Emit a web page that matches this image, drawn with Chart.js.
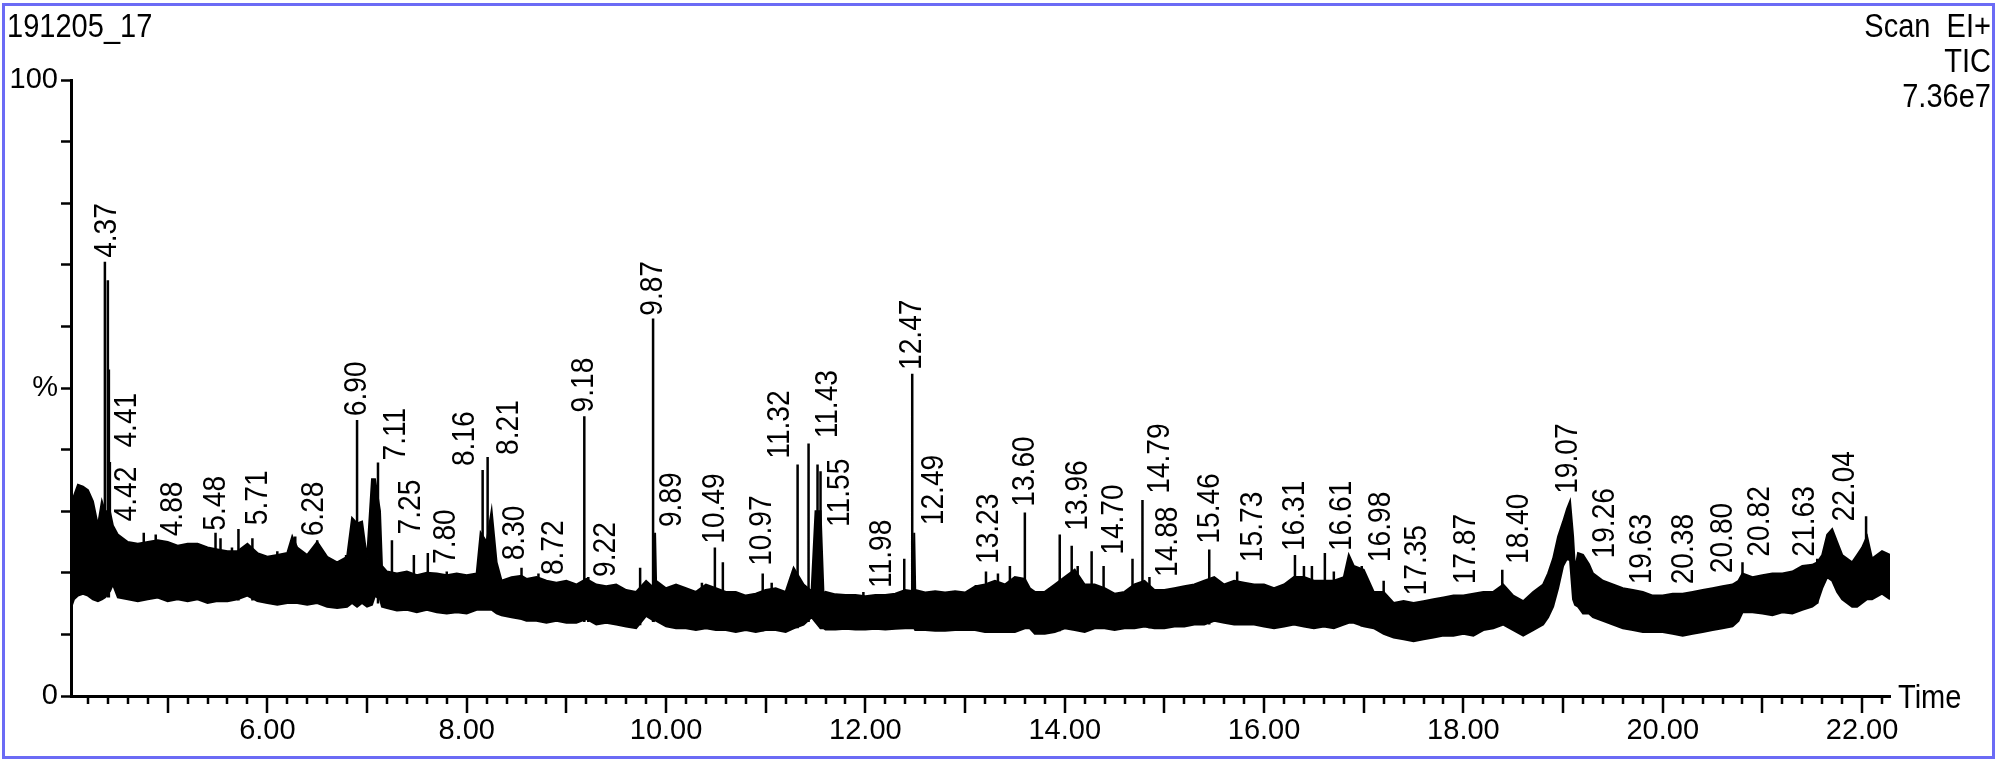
<!DOCTYPE html>
<html><head><meta charset="utf-8">
<style>html,body{margin:0;padding:0;background:#fff;overflow:hidden}canvas{display:block}</style>
<script src="https://cdn.jsdelivr.net/npm/chart.js@4.4.1/dist/chart.umd.min.js"></script>
</head><body>
<canvas id="c" width="2000" height="767"></canvas>
<script>
// ---------- texts ----------
const sampleName = '191205_17';
const headerRight = ['Scan  EI+', 'TIC', '7.36e7'];
const xAxisTitle = 'Time';

// ---------- axis ticks ----------
const xMin = 4.03, xMax = 22.28;
const xLabelValues = [6, 8, 10, 12, 14, 16, 18, 20, 22];
const xMajorTicks = [5, 6, 7, 8, 9, 10, 11, 12, 13, 14, 15, 16, 17, 18, 19, 20, 21, 22];
const yTickValues = [0, 10, 20, 30, 40, 50, 60, 70, 80, 90, 100];
const yTickText = {0: '0', 50: '%', 100: '100'};

// ---------- noise band of the TIC trace (time in min, % of 7.36e7) ----------
const bandTime = [
 4.03,4.06,4.10,4.15,4.20,4.25,4.30,4.34,4.37,4.42,
 4.45,4.50,4.60,4.70,4.80,4.90,5.00,5.10,5.20,5.30,
 5.40,5.50,5.60,5.70,5.80,5.90,6.00,6.10,6.20,6.25,
 6.30,6.40,6.50,6.60,6.70,6.80,6.85,6.90,6.95,7.00,
 7.05,7.08,7.13,7.15,7.20,7.30,7.40,7.50,7.60,7.70,
 7.80,7.90,8.00,8.10,8.14,8.20,8.25,8.30,8.35,8.45,
 8.55,8.60,8.70,8.80,8.90,9.00,9.10,9.20,9.30,9.40,
 9.50,9.60,9.70,9.80,9.88,9.89,9.90,10.00,10.10,10.20,10.30,
 10.40,10.50,10.60,10.70,10.80,10.90,11.00,11.10,11.20,11.28,
 11.38,11.46,11.50,11.55,11.58,11.60,11.70,11.80,11.90,12.00,
 12.10,12.20,12.30,12.40,12.48,12.49,12.50,12.60,12.70,12.80,12.90,
 13.00,13.10,13.20,13.30,13.40,13.50,13.60,13.65,13.70,13.80,
 13.90,14.00,14.10,14.20,14.30,14.40,14.50,14.60,14.70,14.80,
 14.90,15.00,15.10,15.20,15.30,15.40,15.50,15.60,15.70,15.80,
 15.90,16.00,16.10,16.20,16.30,16.40,16.50,16.60,16.70,16.80,
 16.85,16.90,17.00,17.10,17.20,17.30,17.40,17.50,17.60,17.70,
 17.80,17.90,18.00,18.10,18.20,18.30,18.40,18.50,18.60,18.70,
 18.80,18.85,18.90,18.95,19.00,19.04,19.07,19.10,19.12,19.15,
 19.20,19.26,19.30,19.40,19.50,19.60,19.70,19.80,19.90,20.00,
 20.10,20.20,20.30,20.40,20.50,20.60,20.70,20.76,20.80,20.90,
 21.00,21.10,21.20,21.30,21.40,21.50,21.55,21.60,21.65,21.70,
 21.75,21.80,21.90,21.95,22.00,22.05,22.10,22.20,22.28];
const bandTop = [
 29.5,32.5,34.3,34.0,33.4,31.6,27.7,31.6,30.0,30.0,
 27.7,26.2,25.0,24.7,25.0,25.3,25.0,24.4,24.7,24.7,
 24.1,23.8,23.5,23.5,24.7,23.2,22.6,22.9,23.2,25.9,
 24.1,22.9,25.0,22.6,21.7,22.6,28.9,28.0,28.3,22.3,
 35.2,35.2,30.0,21.1,20.2,19.9,20.2,19.6,20.0,19.9,
 19.6,19.9,19.6,19.9,26.5,25.0,30.1,21.7,18.7,19.3,
 19.5,19.0,19.3,18.7,18.4,18.7,18.1,19.0,18.1,17.8,
 18.1,17.2,16.9,18.7,17.5,26.5,18.7,17.5,18.1,17.5,16.9,
 18.1,17.5,16.9,16.9,16.3,16.6,17.2,17.5,16.9,20.8,
 18.1,17.0,30.0,30.0,16.5,16.9,16.5,16.4,16.4,16.2,
 16.4,16.4,16.6,17.2,17.0,26.5,17.2,16.8,17.0,16.8,17.0,
 16.8,17.8,18.1,18.7,18.1,19.3,19.0,17.5,16.9,16.9,
 18.1,19.3,20.5,18.1,18.1,17.5,16.6,16.9,18.1,18.7,
 17.2,17.2,17.5,17.8,18.1,18.7,19.3,18.1,18.7,18.4,
 18.1,18.1,17.5,18.1,19.3,19.3,18.7,18.7,18.7,19.3,
 22.9,21.1,20.5,16.9,16.9,15.1,15.4,15.1,15.4,15.7,
 16.0,16.3,16.3,16.6,16.9,16.9,18.1,16.3,15.4,16.9,
 18.1,19.9,22.3,25.9,28.3,30.4,31.6,26.0,20.5,23.2,
 22.9,21.4,19.9,18.7,18.1,17.5,17.2,16.9,16.3,16.3,
 16.6,16.6,16.9,17.2,17.5,17.8,18.1,18.7,19.9,19.3,
 19.6,19.9,19.9,20.2,21.1,21.3,21.7,22.9,26.2,27.1,
 25.0,22.9,21.7,22.9,24.1,25.9,22.3,23.5,22.9];
const bandBottom = [
 14.3,15.7,16.3,16.6,16.3,15.7,15.4,15.7,16.0,17.0,
 18.1,16.0,15.7,15.4,15.7,16.0,15.4,15.7,15.4,15.7,
 15.1,15.4,15.4,15.7,16.3,15.4,15.1,14.8,15.1,15.1,
 15.1,14.8,15.1,14.5,14.3,14.5,15.1,14.5,15.1,14.5,
 14.8,16.3,15.7,14.5,14.3,13.9,14.0,13.6,14.0,13.6,
 13.4,13.6,13.4,14.0,14.0,14.0,14.0,13.4,13.1,12.8,
 12.5,12.2,12.2,11.9,12.2,11.9,11.9,12.5,11.6,11.9,
 11.6,11.3,11.0,13.0,12.2,12.5,12.2,11.3,11.0,11.0,10.7,
 11.0,10.7,10.7,10.4,10.7,10.4,10.7,10.7,10.4,11.0,
 11.6,12.8,12.0,11.0,11.0,10.8,10.8,10.9,10.8,10.8,
 10.9,10.8,10.9,11.0,11.0,11.0,10.7,10.7,10.6,10.6,10.7,
 10.7,10.7,10.4,10.4,10.4,10.4,11.0,11.0,10.1,10.1,
 10.4,11.0,10.7,10.4,11.0,11.0,10.7,11.0,11.0,11.3,
 11.0,11.0,11.3,11.3,11.6,11.6,12.2,11.9,11.6,11.6,
 11.6,11.3,11.0,11.3,11.6,11.3,11.0,11.3,11.0,11.6,
 11.9,11.9,11.3,11.0,10.1,9.5,9.2,8.9,9.2,9.5,
 9.8,9.8,10.1,9.8,10.7,11.0,11.6,10.7,9.8,10.7,
 11.6,12.8,14.5,17.5,21.1,22.3,22.0,15.7,14.8,14.5,
 13.4,13.4,12.8,12.2,11.6,11.0,10.7,10.4,10.4,10.4,
 10.1,9.8,10.1,10.4,10.7,11.0,11.3,12.2,13.6,13.6,
 13.4,13.1,13.6,13.4,14.0,14.5,15.1,17.5,19.3,18.7,
 16.9,15.7,14.5,14.5,15.1,15.7,15.7,16.6,15.7];

// ---------- narrow peaks (apex and foot level, %) ----------
const spikeTime = [
 4.37,4.40,4.41,4.42,4.76,4.88,5.48,5.53,5.645,5.71,
 5.85,6.10,6.28,6.50,6.79,6.90,7.11,7.25,7.47,7.61,
 7.80,8.16,8.21,8.55,8.72,9.18,9.22,9.74,9.87,10.36,
 10.49,10.57,10.97,11.06,11.32,11.43,11.52,11.55,11.98,12.39,
 12.47,13.11,13.21,13.33,13.45,13.60,13.95,14.07,14.13,14.27,
 14.39,14.68,14.78,14.85,15.45,15.73,16.31,16.40,16.48,16.61,
 16.70,16.98,17.20,18.39,20.80,21.55,22.04];
const spikeApex = [
 70.5,67.5,53.0,38.0,26.5,26.2,26.5,25.6,24.1,27.1,
 25.6,23.5,25.9,25.3,22.9,44.8,37.9,25.3,22.9,23.2,
 20.2,36.7,38.8,20.8,19.9,45.4,19.3,20.8,61.3,18.4,
 24.1,21.7,19.9,18.4,37.6,41.0,37.6,36.5,16.9,22.3,
 52.3,18.0,20.2,19.9,21.1,29.8,26.2,24.4,21.1,23.5,
 21.1,22.3,31.8,19.3,23.8,20.2,22.9,21.1,21.1,23.2,
 20.2,21.1,18.7,20.5,21.7,22.3,29.2];
const spikeBase = [
 16,16,16,17,16,16,15.5,15.5,15.5,15.5,
 15.5,15,15,15,15,15,15,14,14,14,
 13.5,14,14,12.5,12.2,12,12,11.5,12,11,
 11,11,10.5,10.7,11,12,12,11,10.8,11,
 11,10.7,10.4,10.4,10.4,11,10.5,10.7,10.7,11,
 11,11,11.3,11,11.6,11.6,11.6,11.3,11,11.3,
 11,11.3,10.1,11.6,13.6,15,15.7];

// ---------- peak annotations (text, anchor time, anchor level %) ----------
const peakLabelText = ['4.37','4.41','4.42','4.88','5.48','5.71','6.28','6.90','7.11','7.25',
 '7.80','8.16','8.21','8.30','8.72','9.18','9.22','9.87','9.89','10.49',
 '10.97','11.32','11.43','11.55','11.98','12.47','12.49','13.23','13.60','13.96',
 '14.70','14.79','14.88','15.46','15.73','16.31','16.61','16.98','17.35','17.87',
 '18.40','19.07','19.26','19.63','20.38','20.80','20.82','21.63','22.04'];
const peakLabelTime = [4.39,4.59,4.59,5.06,5.49,5.91,6.47,6.90,7.29,7.44,
 7.79,7.98,8.43,8.49,8.88,9.18,9.40,9.87,10.06,10.49,
 10.96,11.15,11.63,11.75,12.17,12.47,12.69,13.24,13.60,14.13,
 14.50,14.96,15.04,15.46,15.89,16.31,16.78,17.17,17.54,18.03,
 18.56,19.05,19.42,19.79,20.21,20.61,20.98,21.43,21.83];
const peakLabelLevel = [70.8,40.0,28.0,25.6,26.5,27.4,25.6,45.1,37.9,25.9,
 21.1,37.0,38.8,21.7,19.3,45.7,19.0,61.4,27.1,24.4,
 20.8,38.2,41.5,27.1,17.2,52.6,27.4,21.1,30.4,26.5,
 22.6,32.5,19.0,24.4,21.4,23.2,23.2,21.4,16.0,17.8,
 21.1,32.5,22.0,17.8,17.8,19.6,22.3,22.3,28.0];

// ---------- helpers ----------
function hasFont(name) {
  const c = document.createElement('canvas').getContext('2d');
  c.font = '40px monospace';
  const a = c.measureText('13.60 Time').width;
  c.font = "40px '" + name + "', monospace";
  const b = c.measureText('13.60 Time').width;
  return Math.abs(a - b) > 0.5;
}
const NARROW = hasFont('Liberation Sans Narrow');
const tickFont = NARROW ? {family: "'Liberation Sans Narrow'", size: 32} : {family: "'Liberation Sans', Arial", size: 29};
const TEXT_FAMILY = "'Liberation Sans', Arial, sans-serif";
const SX = 0.88;

function drawText(ctx, txt, x, y, size, align, baseline, rotate) {
  ctx.save();
  ctx.translate(x, y);
  if (rotate) ctx.rotate(-Math.PI / 2);
  ctx.scale(SX, 1);
  ctx.font = size + 'px ' + TEXT_FAMILY;
  ctx.textAlign = align;
  ctx.textBaseline = baseline;
  ctx.fillStyle = '#000';
  ctx.fillText(txt, 0, 0);
  ctx.restore();
}

const xMinorTicks = [];
for (let i = Math.ceil(xMin * 5); i <= Math.floor(xMax * 5); i++) {
  if (i % 5 !== 0) xMinorTicks.push(i / 5);
}

// ---------- datasets ----------
const upper = bandTime.map((t, i) => ({x: t, y: bandTop[i]}));
const lower = bandTime.map((t, i) => ({x: t, y: bandBottom[i]}));
const spikes = [];
spikeTime.forEach((t, i) => {
  spikes.push({x: t, y: spikeBase[i]}, {x: t, y: spikeApex[i]}, {x: t, y: null});
});

const decor = {
  id: 'decor',
  afterDraw(chart) {
    const {ctx, chartArea: a, scales: {x, y}} = chart;
    ctx.save();
    // x tick marks
    ctx.strokeStyle = '#000';
    ctx.lineWidth = 2.5;
    ctx.beginPath();
    xMinorTicks.forEach(v => { const px = Math.round(x.getPixelForValue(v)); ctx.moveTo(px, a.bottom); ctx.lineTo(px, a.bottom + 8); });
    xMajorTicks.forEach(v => { const px = Math.round(x.getPixelForValue(v)); ctx.moveTo(px, a.bottom); ctx.lineTo(px, a.bottom + 17); });
    ctx.stroke();
    // peak annotations
    peakLabelText.forEach((txt, i) => {
      drawText(ctx, txt, x.getPixelForValue(peakLabelTime[i]), y.getPixelForValue(peakLabelLevel[i]) - 2, 32, 'left', 'middle', true);
    });
    // header texts
    drawText(ctx, sampleName, 7, 37, 33, 'left', 'alphabetic', false);
    headerRight.forEach((t, i) => drawText(ctx, t, 1991, 37 + i * 35, 33, 'right', 'alphabetic', false));
    // axis title
    drawText(ctx, xAxisTitle, a.right + 8, a.bottom + 12, 33, 'left', 'alphabetic', false);
    // frame
    ctx.strokeStyle = '#6b6bf5';
    ctx.lineWidth = 3;
    ctx.strokeRect(3.5, 4.5, 1990, 753);
    ctx.restore();
  }
};

new Chart(document.getElementById('c'), {
  type: 'line',
  data: {
    datasets: [
      {label: 'TIC upper', data: upper, borderColor: '#000', borderWidth: 2, pointRadius: 0, fill: false, tension: 0},
      {label: 'TIC lower', data: lower, borderColor: '#000', borderWidth: 2, pointRadius: 0, fill: '-1', backgroundColor: '#000', tension: 0},
      {label: 'TIC peaks', data: spikes, borderColor: '#000', borderWidth: 2.5, pointRadius: 0, fill: false, spanGaps: false, tension: 0, borderCapStyle: 'butt'}
    ]
  },
  options: {
    responsive: false,
    animation: false,
    devicePixelRatio: 1,
    layout: {padding: {top: 80, right: 110, left: 0, bottom: 0}},
    plugins: {legend: {display: false}, tooltip: {enabled: false}, title: {display: false}},
    scales: {
      x: {
        type: 'linear', min: xMin, max: xMax, offset: false,
        afterBuildTicks: s => { s.ticks = xLabelValues.map(v => ({value: v})); },
        afterFit: s => { s.height = 71; },
        grid: {display: true, drawOnChartArea: false, drawTicks: false},
        border: {display: true, color: '#000', width: 3},
        ticks: {autoSkip: false, maxRotation: 0, minRotation: 0, padding: 18, color: '#000', font: tickFont,
                callback: v => Number(v).toFixed(2)}
      },
      y: {
        type: 'linear', min: 0, max: 100,
        afterBuildTicks: s => { s.ticks = yTickValues.map(v => ({value: v})); },
        afterFit: s => { s.width = 71; },
        grid: {display: true, drawOnChartArea: false, drawTicks: true, tickLength: 10, tickWidth: 2.5, tickColor: '#000'},
        border: {display: true, color: '#000', width: 3},
        ticks: {autoSkip: false, padding: 3, color: '#000', font: tickFont,
                callback: v => (yTickText[v] !== undefined ? yTickText[v] : '')}
      }
    }
  },
  plugins: [decor]
});
</script>
</body></html>
